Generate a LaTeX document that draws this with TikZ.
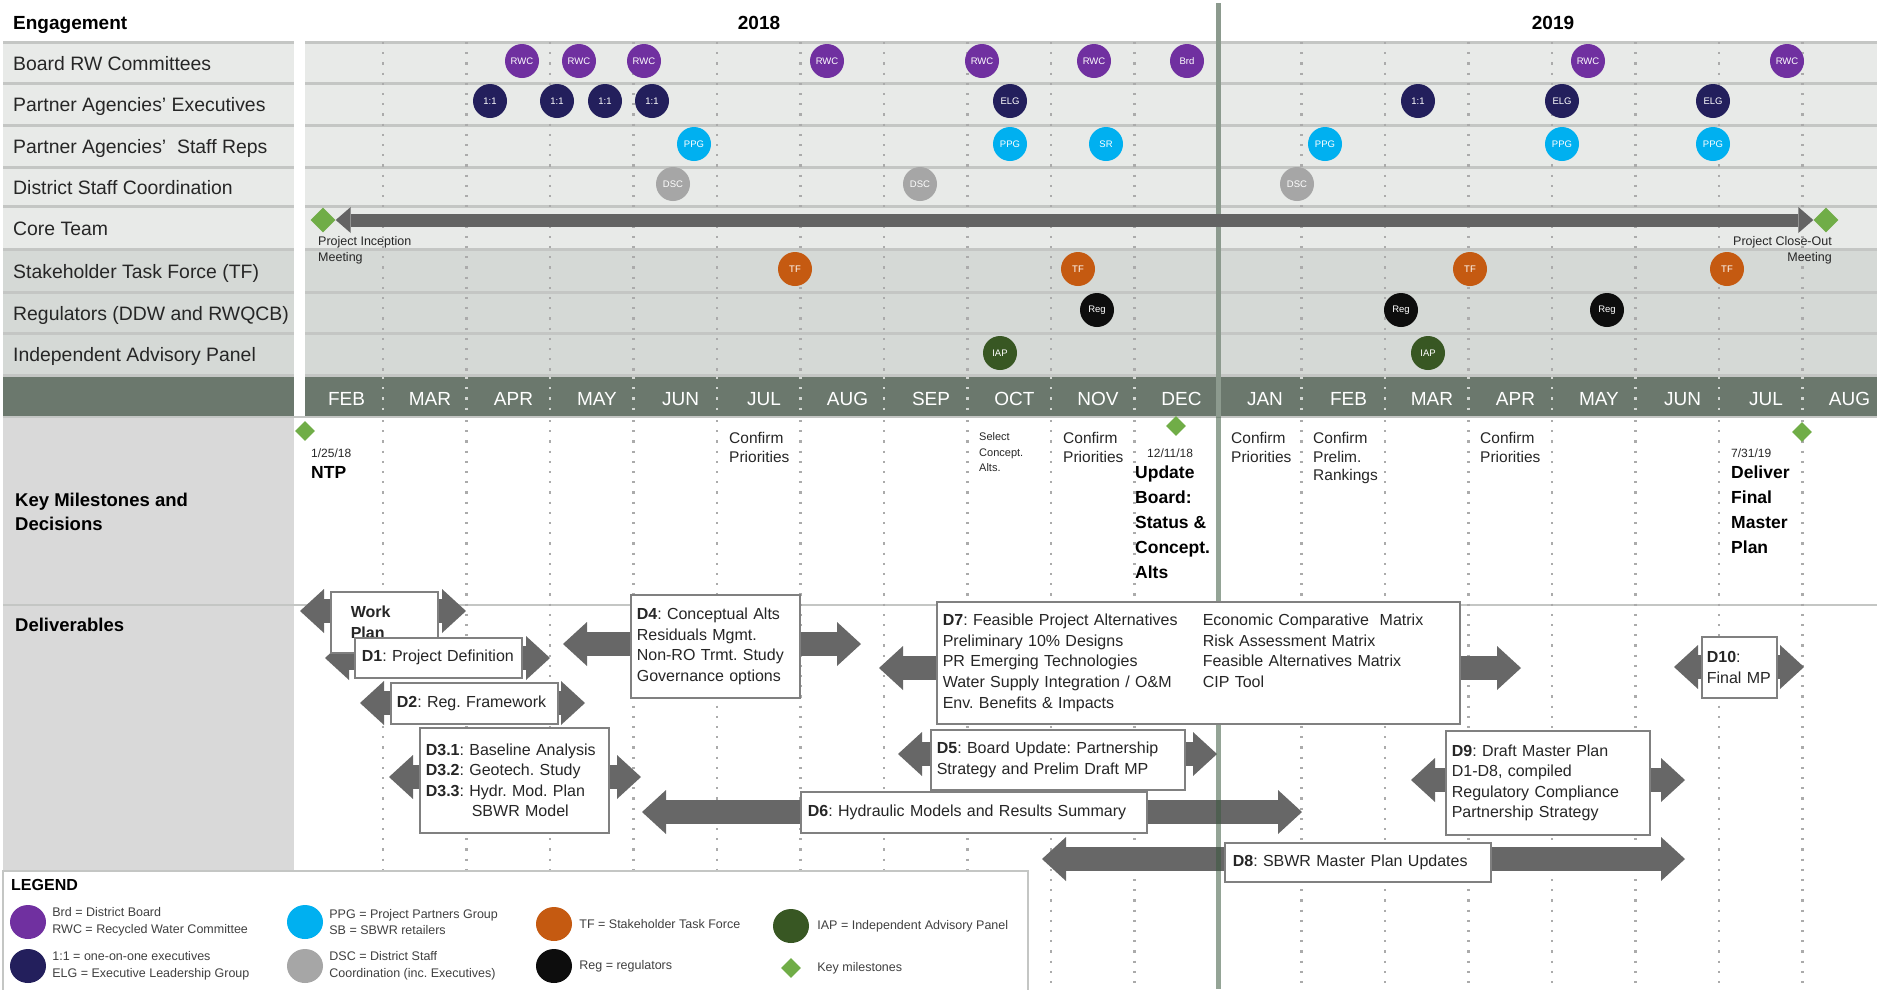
\documentclass[tikz,border=0pt]{standalone}
\usepackage{fontspec}
\setmainfont{Liberation Sans}
\usetikzlibrary{positioning,shapes.geometric,arrows.meta}
\frenchspacing

\definecolor{rwcpurple}{HTML}{7030A0}
\definecolor{execnavy}{HTML}{231F5C}
\definecolor{ppgcyan}{HTML}{00B0F0}
\definecolor{dscgray}{HTML}{A6A6A6}
\definecolor{tforange}{HTML}{C55A11}
\definecolor{regblack}{HTML}{0D0D0D}
\definecolor{iapgreen}{HTML}{385723}
\definecolor{milegreen}{HTML}{70AD47}
\definecolor{monthbar}{HTML}{6B786D}
\definecolor{rowlight}{HTML}{E8EAE8}
\definecolor{rowdark}{HTML}{D5D9D6}
\definecolor{colgray}{HTML}{D9D9D9}
\definecolor{sepgray}{HTML}{C4C6C4}
\definecolor{dotgray}{HTML}{ABABAB}
\definecolor{divgreen}{HTML}{8C9A8E}
\definecolor{divdark}{HTML}{3C5A40}
\definecolor{arrowgray}{HTML}{676767}
\definecolor{coregray}{HTML}{636363}
\definecolor{boxline}{HTML}{808080}
\definecolor{notetext}{HTML}{262626}
\definecolor{legtextc}{HTML}{404040}

\newcommand{\fsz}[2]{\fontsize{#1}{#2}\selectfont}
\newcommand{\dl}[1]{\textbf{#1}}

\pgfdeclarelayer{bg}
\pgfdeclarelayer{arrowlayer}
\pgfsetlayers{bg,arrowlayer,main}

\tikzset{
  bubble/.style={circle, inner sep=0pt, minimum size=34pt, text=white, font=\fsz{9.5}{10}},
  legdot/.style={ellipse, inner sep=0pt, minimum width=36pt, minimum height=34pt},
  milestone/.style={diamond, fill=milegreen, inner sep=0pt, minimum size=24pt},
  rowlabel/.style={anchor=base west, inner sep=0pt, text=notetext, font=\fsz{19.4}{22}},
  monthlabel/.style={anchor=base, inner sep=0pt, text=white, font=\fsz{19}{20}},
  heading/.style={anchor=base, inner sep=0pt, font=\bfseries\fsz{19}{22}},
  rowsep/.style={draw=sepgray, line width=3pt},
  monthline/.style={draw=dotgray, line width=2.2pt, dash pattern=on 2.2pt off 8pt},
  note/.style={anchor=north west, inner sep=0pt, align=left, text=notetext, font=\fsz{15.5}{18.5}},
  tinynote/.style={note, font=\fsz{11}{15.5}},
  datenote/.style={note, font=\fsz{12}{14}},
  bignote/.style={note, text=black, font=\bfseries\fsz{17.5}{24.8}},
  smallnote/.style={inner sep=0pt, align=left, text=notetext, font=\fsz{12.5}{16}},
  deliv/.style={draw=boxline, line width=1.6pt, fill=white, anchor=north west, align=left,
    inner xsep=6pt, inner ysep=0pt, text=notetext, font=\fsz{16}{20.6}},
  fatarrow/.style={draw=arrowgray, line width=24pt,
    -{Triangle[length=24pt, width=44pt, line width=0pt]}},
  corearrow/.style={draw=coregray, line width=13pt,
    {Triangle[length=15pt, width=26pt, line width=0pt]}-{Triangle[length=15pt, width=26pt, line width=0pt]}},
  legtext/.style={inner sep=0pt, align=left, text=legtextc, font=\fsz{12.5}{16.7}},
}

\begin{document}
\begin{tikzpicture}[x=1pt,y=-1pt]
\useasboundingbox (0,0) rectangle (1877,989);

\begin{pgfonlayer}{bg}
  %% bands of the engagement rows
  \fill[rowlight] (3,42) rectangle (294,249);
  \fill[rowlight] (305,42) rectangle (1877,249);
  \fill[rowdark] (3,249) rectangle (294,375);
  \fill[rowdark] (305,249) rectangle (1877,375);
  \fill[monthbar] (3,375) rectangle (294,417);
  \fill[monthbar] (305,375) rectangle (1877,417);
  \fill[colgray] (3,417) rectangle (294,871);
  \foreach \y in {42,83,125,167,206,249,292,333,375}{
    \draw[rowsep] (3,\y) -- (294,\y);
    \draw[rowsep] (305,\y) -- (1877,\y);
  }
  \draw[rowsep, line width=2pt] (3,417) -- (1877,417);
  \draw[rowsep, line width=2pt] (3,605) -- (1877,605);
  %% dotted month lines
  \foreach \k in {1,...,10,12,13,...,18}{
    \draw[monthline] (299.5+83.5*\k,42) -- (299.5+83.5*\k,375);
    \draw[monthline, draw=white!70!monthbar] (299.5+83.5*\k,377) -- (299.5+83.5*\k,417);
    \draw[monthline] (299.5+83.5*\k,420) -- (299.5+83.5*\k,989);
  }
  %% year divider
  \draw[divgreen, line width=5pt] (1218,3) -- (1218,417);
  %% legend frame
  \filldraw[fill=white, draw=sepgray, line width=1.5pt] (3,871) rectangle (1028,995);
\end{pgfonlayer}

\draw[divdark, opacity=.55, line width=5pt] (1218,417) -- (1218,989);

%% headings
\node[heading, anchor=base west] (engagement) at (13,29) {Engagement};
\node[heading] (y2018) at (759,29) {2018};
\node[heading] (y2019) at (1553,29) {2019};

\foreach \t/\y [count=\i] in {Board RW Committees/70, Partner Agencies’ Executives/111.5,
    Partner Agencies’\ \ Staff Reps/153.5, District Staff Coordination/194, Core Team/235,
    Stakeholder Task Force (TF)/278, Regulators (DDW and RWQCB)/320, Independent Advisory Panel/361.5}
  \node[rowlabel] (row-\i) at (13,\y) {\t};

\foreach \m [count=\k from 0] in {FEB,MAR,APR,MAY,JUN,JUL,AUG,SEP,OCT,NOV,DEC,JAN,FEB,MAR,APR,MAY,JUN,JUL,AUG}
  \node[monthlabel] (month-\k) at (346.5+83.5*\k,405) {\m};

%% engagement bubbles
\foreach \x/\t [count=\i] in {522/RWC,579/RWC,644/RWC,827/RWC,982/RWC,1094/RWC,1187/Brd,1588/RWC,1787/RWC}
  \node[bubble, fill=rwcpurple] (brw-\i) at (\x,61) {\t};
\foreach \x/\t [count=\i] in {490/1:1,557/1:1,605/1:1,652/1:1,1010/ELG,1418/1:1,1562/ELG,1713/ELG}
  \node[bubble, fill=execnavy] (exe-\i) at (\x,101) {\t};
\foreach \x/\t [count=\i] in {694/PPG,1010/PPG,1106/SR,1325/PPG,1562/PPG,1713/PPG}
  \node[bubble, fill=ppgcyan] (rep-\i) at (\x,144) {\t};
\foreach \x [count=\i] in {673,920,1297}
  \node[bubble, fill=dscgray] (dsc-\i) at (\x,184) {DSC};
\foreach \x [count=\i] in {795,1078,1470,1727}
  \node[bubble, fill=tforange] (tf-\i) at (\x,269) {TF};
\foreach \x [count=\i] in {1097,1401,1607}
  \node[bubble, fill=regblack] (reg-\i) at (\x,310) {Reg};
\foreach \x [count=\i] in {1000,1428}
  \node[bubble, fill=iapgreen] (iap-\i) at (\x,353) {IAP};

%% core team
\node[milestone, minimum size=25pt] (ms-start) at (323,220) {};
\node[milestone, minimum size=25pt] (ms-end) at (1826,220) {};
\draw[corearrow] (ms-start) -- (ms-end);
\node[smallnote, anchor=north west] (inception) at (318,236.5) {Project Inception\\Meeting};
\node[smallnote, anchor=north east, align=right] (closeout) at (1832,236.5) {Project Close-Out\\Meeting};

%% key milestones and decisions
\node[inner sep=0pt, anchor=north west, align=left, font=\bfseries\fsz{18.5}{24}] (kmd) at (15,493) {Key Milestones and\\Decisions};
\node[inner sep=0pt, anchor=north west, font=\bfseries\fsz{18.5}{24}] (deliverables) at (15,618) {Deliverables};

\node[milestone, minimum size=20pt] (ntp-ms) at (305,431) {};
\node[datenote] (ntp-date) at (311,449) {1/25/18};
\node[bignote] (ntp) at (311,466) {NTP};
\node[note] (conf-1) at (729,432.5) {Confirm\\Priorities};
\node[tinynote] (select) at (979,432.5) {Select\\Concept.\\Alts.};
\node[note] (conf-2) at (1063,432.5) {Confirm\\Priorities};
\node[milestone, minimum size=20pt] (upd-ms) at (1176,426) {};
\node[datenote] (upd-date) at (1147,449) {12/11/18};
\node[bignote] (update) at (1135,466) {Update\\Board:\\Status \&\\Concept.\\Alts};
\node[note] (conf-3) at (1231,432.5) {Confirm\\Priorities};
\node[note] (conf-4) at (1313,432.5) {Confirm\\Prelim.\\Rankings};
\node[note] (conf-5) at (1480,432.5) {Confirm\\Priorities};
\node[milestone, minimum size=20pt] (fin-ms) at (1802,432) {};
\node[datenote] (fin-date) at (1731,449) {7/31/19};
\node[bignote] (final) at (1731,466) {Deliver\\Final\\Master\\Plan};

%% deliverables
\node[deliv, text width=67pt, inner xsep=20pt, minimum height=61pt, font=\bfseries\fsz{16}{21}] (wp) at (330,591) {Work\\Plan};
\node[deliv, text width=153pt, inner xsep=7pt, minimum height=40pt] (d1) at (354,637) {\mbox{\dl{D1}: Project Definition}};
\node[deliv, text width=155pt, minimum height=41pt] (d2) at (390,682) {\mbox{\dl{D2}: Reg. Framework}};
\node[deliv, text width=177pt, minimum height=105pt] (d3) at (419,727) {\dl{D3.1}: Baseline Analysis\\\dl{D3.2}: Geotech. Study\\\dl{D3.3}: Hydr. Mod. Plan\\\hspace*{46pt}SBWR Model};
\node[deliv, text width=157pt, minimum height=103pt] (d4) at (630,594) {\dl{D4}: Conceptual Alts\\Residuals Mgmt.\\Non-RO Trmt. Study\\Governance options};
\node[deliv, text width=511pt, minimum height=122pt] (d7) at (936,601) {%
  \makebox[260pt][l]{\dl{D7}: Feasible Project Alternatives}Economic Comparative\ \ Matrix\\
  \makebox[260pt][l]{Preliminary 10\% Designs}Risk Assessment Matrix\\
  \makebox[260pt][l]{PR Emerging Technologies}Feasible Alternatives Matrix\\
  \makebox[260pt][l]{Water Supply Integration / O\&M}CIP Tool\\
  Env. Benefits \& Impacts};
\node[deliv, text width=242pt, minimum height=60pt] (d5) at (930,729) {\dl{D5}: Board Update: Partnership\\Strategy and Prelim Draft MP};
\node[deliv, text width=332pt, inner xsep=7pt, minimum height=41pt] (d6) at (800,791) {\mbox{\dl{D6}: Hydraulic Models and Results Summary}};
\node[deliv, text width=250pt, inner xsep=8pt, minimum height=39pt] (d8) at (1224,842) {\mbox{\dl{D8}: SBWR Master Plan Updates}};
\node[deliv, text width=192pt, minimum height=104pt] (d9) at (1445,730) {\dl{D9}: Draft Master Plan\\D1-D8, compiled\\Regulatory Compliance\\Partnership Strategy};
\node[deliv, text width=65pt, inner xsep=5pt, minimum height=61pt] (d10) at (1701,636) {\dl{D10}:\\Final MP};

\begin{pgfonlayer}{arrowlayer}
  \foreach \b/\xl/\xr/\y in {wp/300/466/611, d1/325/550/658, d2/360/585/703, d3/389/641/777,
      d4/563/861/644, d7/879/1521/668, d5/898/1217/754, d6/642/1302/812,
      d8/1042/1685/859, d9/1411/1685/780, d10/1674/1804/667}{
    \coordinate (\b-l) at (\xl,\y);
    \coordinate (\b-r) at (\xr,\y);
    \draw[fatarrow] (\b.center |- \b-l) -- (\b-l);
    \draw[fatarrow] (\b.center |- \b-r) -- (\b-r);
  }
\end{pgfonlayer}

%% legend
\node[inner sep=0pt, anchor=north west, font=\bfseries\fsz{16}{18}] (legend) at (11,879) {LEGEND};
\node[legdot, fill=rwcpurple] (lg-brd) at (28,922) {};
\node[legtext, right=6pt of lg-brd] (lt-brd) {Brd = District Board\\RWC = Recycled Water Committee};
\node[legdot, fill=execnavy] (lg-exe) at (28,966) {};
\node[legtext, right=6pt of lg-exe] (lt-exe) {1:1 = one-on-one executives\\ELG = Executive Leadership Group};
\node[legdot, fill=ppgcyan] (lg-ppg) at (305,922) {};
\node[legtext, right=6pt of lg-ppg] (lt-ppg) {PPG = Project Partners Group\\SB = SBWR retailers};
\node[legdot, fill=dscgray] (lg-dsc) at (305,966) {};
\node[legtext, right=6pt of lg-dsc] (lt-dsc) {DSC = District Staff\\Coordination (inc. Executives)};
\node[legdot, fill=tforange] (lg-tf) at (554,924) {};
\node[legtext, right=7pt of lg-tf] (lt-tf) {TF = Stakeholder Task Force};
\node[legdot, fill=regblack] (lg-reg) at (554,966) {};
\node[legtext, right=7pt of lg-reg] (lt-reg) {Reg = regulators};
\node[legdot, fill=iapgreen] (lg-iap) at (791,926) {};
\node[legtext, right=8pt of lg-iap] (lt-iap) {IAP = Independent Advisory Panel};
\node[milestone, minimum size=20pt] (lg-ms) at (791,968) {};
\node[legtext, right=16pt of lg-ms] (lt-ms) {Key milestones};

\end{tikzpicture}
\end{document}
